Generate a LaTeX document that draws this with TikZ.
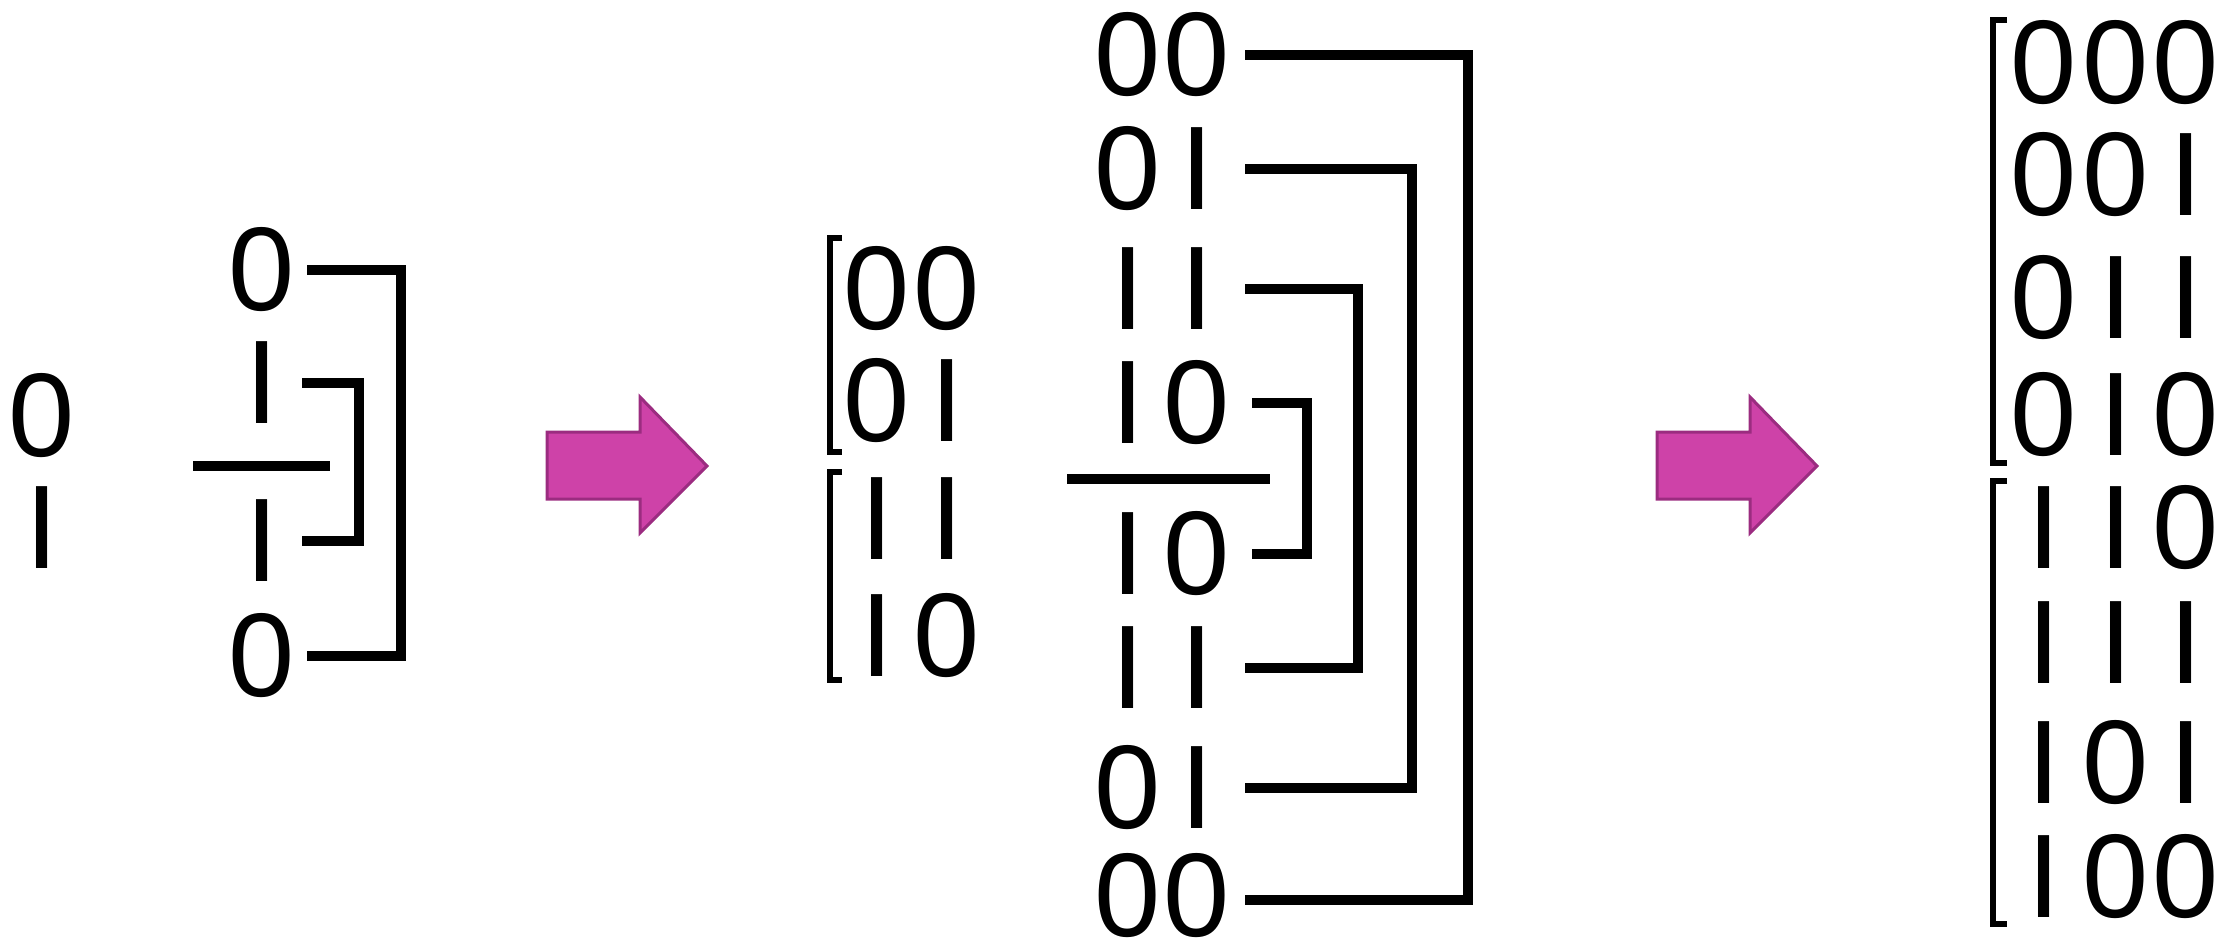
\documentclass[tikz,border=0pt]{standalone}
\usepackage{fontspec}
\newfontfamily\bitfont{Liberation Sans}
\definecolor{arrowfill}{HTML}{CE42A8}
\definecolor{arrowedge}{HTML}{9B2C80}
\tikzset{
  bit/.style={font=\bitfont\fontsize{119}{119}\selectfont, inner sep=0pt, outer sep=0pt, anchor=center},
  link/.style={line width=10pt, line join=miter},
  brace/.style={line width=6.5pt, line join=miter},
  pinkarrow/.style={fill=arrowfill, draw=arrowedge, line width=3pt, line join=miter},
  fatarrow/.pic={\draw[pinkarrow] (0,0) -- (93,0) -- (93,-35) -- (160,34) -- (93,101) -- (93,67) -- (0,67) -- cycle;}
}
\begin{document}
\begin{tikzpicture}[x=1pt,y=-1pt]
\useasboundingbox (0,0) rectangle (2216,944);

% ---- one bit: the list 0, 1 and its reflection ----
\node[bit] (s0) at (42,416) {0};
\node[bit] (s1) at (42,528) {I};

\node[bit] (r1) at (262,270) {0};
\node[bit] (r2) at (262,383) {I};
\node[bit] (r3) at (262,541) {I};
\node[bit] (r4) at (262,656) {0};
\coordinate (cutL) at (193,466);
\coordinate (cutR) at (330,466);
\draw[link] (cutL) -- (cutR);
\coordinate (oa) at (307,0);
\coordinate (ov) at (401,0);
\coordinate (ia) at (302,0);
\coordinate (iv) at (359,0);
\draw[link] (r1.center -| oa) -| (r4.center -| ov) -- (r4.center -| oa);
\draw[link] (r2.center -| ia) -| (r3.center -| iv) -- (r3.center -| ia);

\pic at (547,432) {fatarrow};

% ---- two bits: prefixed lists ----
\foreach \y/\a/\b [count=\r] in {289/0/0,401/0/I,519/I/I,636/I/0} {
  \node[bit] (La\r) at (877,\y) {\a};
  \node[bit] (Lb\r) at (947,\y) {\b};
}
\draw[brace] (842,238) -- (830,238) -- (830,452) -- (842,452);
\draw[brace] (842,472) -- (830,472) -- (830,680) -- (842,680);

% ---- two bits reflected ----
\foreach \y/\a/\b [count=\r] in {55/0/0,169/0/I,289/I/I,403/I/0,554/I/0,668/I/I,788/0/I,896/0/0} {
  \node[bit] (Ma\r) at (1128,\y) {\a};
  \node[bit] (Mb\r) at (1197,\y) {\b};
}
\coordinate (divL) at (1067,479);
\coordinate (divR) at (1270,479);
\draw[link] (divL) -- (divR);
\coordinate (ba) at (1245,0);
\coordinate (bb) at (1252,0);
\coordinate (v1) at (1468,0);
\coordinate (v2) at (1412,0);
\coordinate (v3) at (1358,0);
\coordinate (v4) at (1307,0);
\coordinate (lowend) at ([yshift=-4pt]Mb8.center);
\draw[link] (Mb1.center -| ba) -| (lowend -| v1) -- (lowend -| ba);
\draw[link] (Mb2.center -| ba) -| (Mb7.center -| v2) -- (Mb7.center -| ba);
\draw[link] (Mb3.center -| ba) -| (Mb6.center -| v3) -- (Mb6.center -| ba);
\draw[link] (Mb4.center -| bb) -| (Mb5.center -| v4) -- (Mb5.center -| bb);

\pic at (1657,432) {fatarrow};

% ---- three bits ----
\foreach \y/\a/\b/\c [count=\r] in {63/0/0/0,175/0/0/I,298/0/I/I,415/0/I/0,528/I/I/0,643/I/I/I,763/I/0/I,877/I/0/0} {
  \node[bit] (Ra\r) at (2044,\y) {\a};
  \node[bit] (Rb\r) at (2116,\y) {\b};
  \node[bit] (Rc\r) at (2186,\y) {\c};
}
\draw[brace] (2007,20) -- (1993,20) -- (1993,463) -- (2007,463);
\draw[brace] (2007,481) -- (1993,481) -- (1993,924) -- (2007,924);
\end{tikzpicture}
\end{document}
